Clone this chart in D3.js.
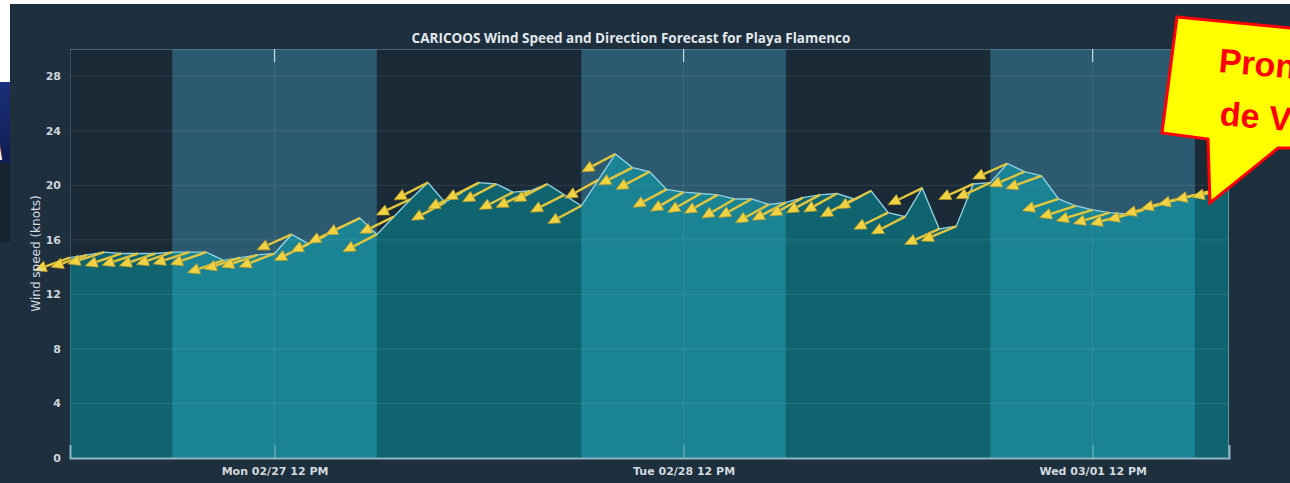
<!DOCTYPE html>
<html>
<head>
<meta charset="utf-8">
<script src="https://cdn.jsdelivr.net/npm/d3@7"></script>
<style>
  body { margin: 0; background: #fff; }
  svg { display: block; }
</style>
</head>
<body>
<svg id="chart" width="1290" height="483"></svg>
<script>
// hourly forecast, Mon 02/27 00:00 -> Wed 03/01 20:00
const startTime = new Date(2017, 1, 27, 0);
const endTime = new Date(2017, 2, 1, 20);

const windSpeed = [
  14.7, 14.9, 15.1, 15.0, 15.0, 15.0, 15.1, 15.1, 15.1, 14.5, 14.7, 14.9, 15.0,
  16.4, 15.7, 16.3, 17.0, 17.6, 16.4, 17.7, 19.0, 20.2, 18.75, 19.5, 20.2, 20.1,
  19.5, 19.6, 20.1, 19.3, 18.5, 20.4, 22.3, 21.3, 21.0, 19.7, 19.5, 19.4, 19.3,
  19.0, 19.0, 18.6, 18.75, 19.1, 19.3, 19.4, 19.0, 19.6, 18.0, 17.7, 19.8, 16.8,
  17.0, 20.1, 20.2, 21.6, 21.0, 20.7, 19.0, 18.5, 18.2, 18.0, 17.9, 18.2, 18.6,
  19.0, 19.3, 19.6, 19.8
];

// direction the wind comes from, degrees
const windDir = [
  70, 71, 72, 71, 72, 71, 71, 72, 71, 71, 72, 71, 69,
  66, 64, 65, 64, 64, 63, 64, 65, 63, 62, 64, 63, 62,
  63, 64, 62, 63, 62, 61, 62, 63, 62, 62, 60, 60, 61,
  60, 61, 61, 62, 61, 62, 61, 62, 62, 64, 63, 64, 66,
  67, 66, 65, 66, 67, 70, 72, 72, 73, 73, 74, 74, 75,
  75, 75, 76, 76
];

const yTicks = [0, 4, 8, 12, 16, 20, 24, 28];
const xTicks = [new Date(2017, 1, 27, 12), new Date(2017, 1, 28, 12), new Date(2017, 2, 1, 12)];
const dayStarts = [new Date(2017, 1, 27, 6), new Date(2017, 1, 28, 6), new Date(2017, 2, 1, 6)];
const dayEnds = [new Date(2017, 1, 27, 18), new Date(2017, 1, 28, 18), new Date(2017, 2, 1, 18)];

const titleText = "CARICOOS Wind Speed and Direction Forecast for Playa Flamenco";
const yLabel = "Wind speed (knots)";
const calloutLines = ["Pronóstico", "de Viento"];

const plot = { left: 70, right: 1229, top: 49, bottom: 458 };
const arrowLen = 38;

const svg = d3.select("#chart");
const defs = svg.append("defs");

const x = d3.scaleTime().domain([startTime, endTime]).range([plot.left, plot.right]);
const y = d3.scaleLinear().domain([0, 30]).range([plot.bottom, plot.top]);

const data = windSpeed.map((v, i) => ({
  t: d3.timeHour.offset(startTime, i),
  speed: v,
  dir: windDir[i]
}));

// screenshot backdrop
svg.append("rect").attr("x", 0).attr("y", 4).attr("width", 1290).attr("height", 479).attr("fill", "#1e2f3d");
svg.append("rect").attr("x", 0).attr("y", 0).attr("width", 10).attr("height", 82).attr("fill", "#fff");

// bit of another slide peeking in on the left
const grad = defs.append("linearGradient").attr("id", "navy").attr("x1", 0).attr("y1", 0).attr("x2", 0).attr("y2", 1);
grad.append("stop").attr("offset", "0%").attr("stop-color", "#1a2f7a");
grad.append("stop").attr("offset", "100%").attr("stop-color", "#0f1d52");
defs.append("clipPath").attr("id", "leftStrip")
  .append("rect").attr("x", 0).attr("y", 82).attr("width", 10).attr("height", 81);

svg.append("rect").attr("x", 0).attr("y", 82).attr("width", 10).attr("height", 81).attr("fill", "url(#navy)");
svg.append("rect").attr("x", 0).attr("y", 163).attr("width", 10).attr("height", 79).attr("fill", "#172330");
svg.append("text").attr("x", -24).attr("y", 160)
  .attr("clip-path", "url(#leftStrip)")
  .attr("font-family", "Liberation Sans").attr("font-weight", "bold").attr("font-style", "italic")
  .attr("font-size", 40).attr("fill", "#fff").text("A");

// plot background: night, with lighter day bands
svg.append("rect")
  .attr("x", plot.left).attr("y", plot.top)
  .attr("width", plot.right - plot.left).attr("height", plot.bottom - plot.top)
  .attr("fill", "#1a2a37");

svg.append("g").selectAll("rect")
  .data(dayStarts)
  .join("rect")
    .attr("x", d => x(d))
    .attr("y", plot.top)
    .attr("width", (d, i) => x(dayEnds[i]) - x(d))
    .attr("height", plot.bottom - plot.top)
    .attr("fill", "#2c5a70");

// wind speed area
const area = d3.area()
  .x(d => x(d.t))
  .y0(y(0))
  .y1(d => y(d.speed));

defs.append("clipPath").attr("id", "areaClip")
  .append("path").attr("d", area(data));

svg.append("path").attr("d", area(data)).attr("fill", "#0f6470");

svg.append("g").attr("clip-path", "url(#areaClip)")
  .selectAll("rect")
  .data(dayStarts)
  .join("rect")
    .attr("x", d => x(d))
    .attr("y", plot.top)
    .attr("width", (d, i) => x(dayEnds[i]) - x(d))
    .attr("height", plot.bottom - plot.top)
    .attr("fill", "#1a8494");

// grid
svg.append("g").selectAll("line")
  .data(yTicks.filter(d => d > 0))
  .join("line")
    .attr("x1", plot.left).attr("x2", plot.right)
    .attr("y1", d => y(d)).attr("y2", d => y(d))
    .attr("stroke", "#ffffff").attr("stroke-opacity", 0.09);

svg.append("g").selectAll("line")
  .data(xTicks)
  .join("line")
    .attr("x1", d => x(d)).attr("x2", d => x(d))
    .attr("y1", plot.top).attr("y2", plot.bottom)
    .attr("stroke", "#ffffff").attr("stroke-opacity", 0.09);

// frame
svg.append("line").attr("x1", plot.left).attr("x2", plot.right).attr("y1", plot.top + 0.5).attr("y2", plot.top + 0.5)
  .attr("stroke", "#6f98ab").attr("stroke-opacity", 0.5);
svg.append("line").attr("x1", plot.left + 0.5).attr("x2", plot.left + 0.5).attr("y1", plot.top).attr("y2", plot.bottom)
  .attr("stroke", "#6f98ab").attr("stroke-opacity", 0.35);
svg.append("line").attr("x1", plot.right - 0.5).attr("x2", plot.right - 0.5).attr("y1", plot.top).attr("y2", plot.bottom)
  .attr("stroke", "#8fb6c6").attr("stroke-opacity", 0.6);

// speed line
svg.append("path")
  .attr("d", d3.line().x(d => x(d.t)).y(d => y(d.speed))(data))
  .attr("fill", "none")
  .attr("stroke", "#8fcfe2")
  .attr("stroke-width", 1.4);

// direction arrows, tail on the data point, pointing where the wind goes
const arrows = svg.append("g").attr("class", "arrows");
data.forEach(d => {
  const a = (d.dir + 180) * Math.PI / 180;
  const x0 = x(d.t), y0 = y(d.speed);
  const ux = Math.sin(a), uy = -Math.cos(a);
  const x1 = x0 + ux * arrowLen, y1 = y0 + uy * arrowLen;
  const hl = 12, hw = 5.5;
  const bx = x1 - ux * hl, by = y1 - uy * hl;
  arrows.append("line")
    .attr("x1", x0).attr("y1", y0).attr("x2", bx).attr("y2", by)
    .attr("stroke", "#e2c63e").attr("stroke-width", 2.4);
  arrows.append("path")
    .attr("d", `M${x1},${y1}L${bx - uy * hw},${by + ux * hw}L${bx + uy * hw},${by - ux * hw}Z`)
    .attr("fill", "#f0d243").attr("stroke", "#b89a2a").attr("stroke-width", 0.7);
});

// axes
const xAxis = d3.axisBottom(x)
  .tickValues(xTicks)
  .tickFormat(d3.timeFormat("%a %m/%d %-I %p"))
  .tickSize(-13)
  .tickPadding(9);

svg.append("g")
  .attr("transform", `translate(0,${plot.bottom})`)
  .call(xAxis)
  .call(g => g.select(".domain").attr("stroke", "#90b4c4").attr("stroke-width", 2))
  .call(g => g.selectAll(".tick line").attr("stroke", "#9ccbd8").attr("stroke-opacity", 0.7))
  .call(g => g.selectAll(".tick text")
    .attr("fill", "#d2d9de").attr("font-size", 11).attr("font-weight", "bold")
    .attr("font-family", "DejaVu Sans"));

svg.append("g").selectAll("line")
  .data(xTicks)
  .join("line")
    .attr("x1", d => x(d)).attr("x2", d => x(d))
    .attr("y1", plot.top).attr("y2", plot.top + 13)
    .attr("stroke", "#c8dde6").attr("stroke-width", 1.2);

const yAxis = d3.axisLeft(y).tickValues(yTicks).tickSize(0).tickPadding(9);
svg.append("g")
  .attr("transform", `translate(${plot.left},0)`)
  .call(yAxis)
  .call(g => g.select(".domain").remove())
  .call(g => g.selectAll(".tick text")
    .attr("fill", "#cfd6dc").attr("font-size", 11).attr("font-weight", "bold")
    .attr("font-family", "DejaVu Sans"));

svg.append("text")
  .attr("transform", `translate(40,${(plot.top + plot.bottom) / 2}) rotate(-90)`)
  .attr("text-anchor", "middle")
  .attr("font-family", "DejaVu Sans")
  .attr("font-size", 12)
  .attr("fill", "#d6dde2")
  .text(yLabel);

svg.append("text")
  .attr("x", 631).attr("y", 43)
  .attr("text-anchor", "middle")
  .attr("font-family", "Open Sans")
  .attr("font-weight", "bold")
  .attr("font-size", 13.5)
  .attr("fill", "#e2e8ec")
  .text(titleText);

// callout pasted on top
const callout = svg.append("g");
callout.append("path")
  .attr("d", "M1177,17L1300,29L1300,148L1278,148L1210,203L1208,139L1162,133Z")
  .attr("fill", "#ffff00")
  .attr("stroke", "#ff0000")
  .attr("stroke-width", 3)
  .attr("stroke-linejoin", "miter");

callout.selectAll("text")
  .data(calloutLines)
  .join("text")
    .attr("transform", (d, i) => `translate(${1218 + i},${72 + i * 53}) rotate(5)`)
    .attr("font-family", "Liberation Sans")
    .attr("font-weight", "bold")
    .attr("font-size", 34)
    .attr("fill", "#ff0000")
    .text(d => d);
</script>
</body>
</html>
